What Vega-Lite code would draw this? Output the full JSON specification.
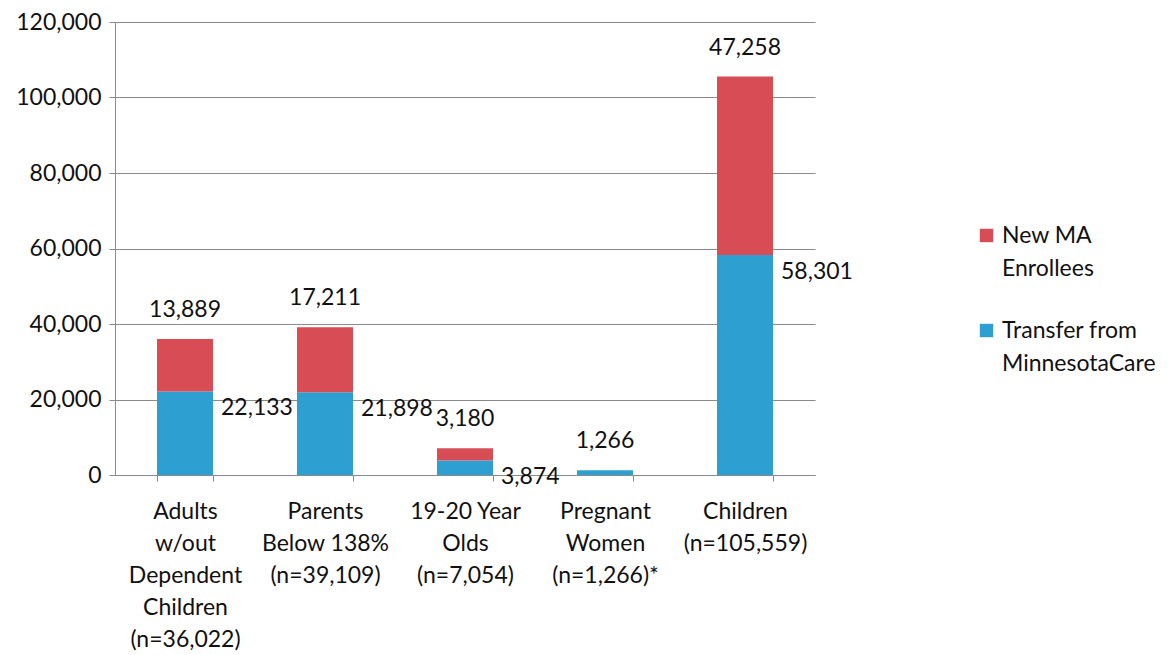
{
  "$schema": "https://vega.github.io/schema/vega-lite/v6.json",
  "width": 700,
  "height": 453,
  "autosize": "none",
  "padding": {"left": 115, "top": 22, "right": 360, "bottom": 180},
  "background": "white",
  "config": {
    "font": "Lato",
    "view": {"stroke": null},
    "style": {"guide-label": {"lineHeight": 33}},
    "axis": {"labelFont": "Lato", "labelColor": "#111", "labelFontSize": 23, "domainColor": "#8a8a8a", "tickColor": "#8a8a8a", "gridColor": "#8a8a8a", "title": null},
    "legend": {"labelFont": "Lato", "labelFontSize": 23, "labelColor": "#111"}
  },
  "data": {
    "values": [
      {"category": "Adults|w/out|Dependent|Children|(n=36,022)", "group": "Transfer from MinnesotaCare", "order": 1, "value": 22133},
      {"category": "Adults|w/out|Dependent|Children|(n=36,022)", "group": "New MA Enrollees", "order": 2, "value": 13889},
      {"category": "Parents|Below 138%|(n=39,109)", "group": "Transfer from MinnesotaCare", "order": 1, "value": 21898},
      {"category": "Parents|Below 138%|(n=39,109)", "group": "New MA Enrollees", "order": 2, "value": 17211},
      {"category": "19-20 Year|Olds|(n=7,054)", "group": "Transfer from MinnesotaCare", "order": 1, "value": 3874},
      {"category": "19-20 Year|Olds|(n=7,054)", "group": "New MA Enrollees", "order": 2, "value": 3180},
      {"category": "Pregnant|Women|(n=1,266)*", "group": "Transfer from MinnesotaCare", "order": 1, "value": 1266},
      {"category": "Pregnant|Women|(n=1,266)*", "group": "New MA Enrollees", "order": 2, "value": 0},
      {"category": "Children|(n=105,559)", "group": "Transfer from MinnesotaCare", "order": 1, "value": 58301},
      {"category": "Children|(n=105,559)", "group": "New MA Enrollees", "order": 2, "value": 47258}
    ]
  },
  "transform": [
    {"stack": "value", "groupby": ["category"], "sort": [{"field": "order"}], "as": ["y0", "y1"]},
    {"joinaggregate": [{"op": "sum", "field": "value", "as": "total"}], "groupby": ["category"]}
  ],
  "encoding": {
    "x": {
      "field": "category",
      "type": "nominal",
      "sort": null,
      "scale": {"paddingInner": 0.6, "paddingOuter": 0.3},
      "axis": {"labelAngle": 0, "labelExpr": "split(datum.label, '|')", "labelLineHeight": 32, "labelPadding": 19, "tickBand": "extent", "tickSize": 6, "labelBaseline": "top"}
    }
  },
  "layer": [
    {
      "mark": {"type": "bar"},
      "encoding": {
        "y": {
          "field": "y0",
          "type": "quantitative",
          "scale": {"domain": [0, 120000]},
          "axis": {"values": [0, 20000, 40000, 60000, 80000, 100000, 120000], "format": ",.0f", "grid": true, "tickSize": 6, "labelPadding": 8}
        },
        "y2": {"field": "y1"},
        "color": {
          "field": "group",
          "type": "nominal",
          "scale": {"domain": ["New MA Enrollees", "Transfer from MinnesotaCare"], "range": ["#d84c55", "#2e9fd1"]},
          "legend": {
            "title": null,
            "orient": "none",
            "legendX": 860,
            "legendY": 202,
            "symbolType": "square",
            "symbolSize": 180,
            "symbolStrokeWidth": 0,
            "labelExpr": "datum.label == 'New MA Enrollees' ? ['New MA', 'Enrollees'] : ['Transfer from', 'MinnesotaCare']",
            "labelBaseline": "top",
            "labelOffset": 4,
            "rowPadding": 38,
            "labelLimit": 300,
            "encode": {"labels": {"update": {"dy": {"value": -11}}}}
          }
        }
      }
    },
    {
      "transform": [{"filter": "datum.y1 == datum.total && datum.value > 0"}],
      "mark": {"type": "text", "fontSize": 23, "color": "#111", "baseline": "alphabetic", "dy": -22},
      "encoding": {
        "y": {"field": "y1", "type": "quantitative"},
        "text": {"field": "value", "type": "quantitative", "format": ","}
      }
    },
    {
      "transform": [{"filter": "datum.group == 'Transfer from MinnesotaCare' && datum.y1 < datum.total"}],
      "mark": {"type": "text", "fontSize": 23, "color": "#111", "align": "left", "baseline": "top", "dx": 36, "dy": 6},
      "encoding": {
        "y": {"field": "y1", "type": "quantitative"},
        "text": {"field": "value", "type": "quantitative", "format": ","}
      }
    }
  ]
}
